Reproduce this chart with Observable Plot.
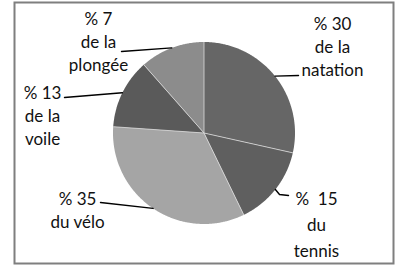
<!DOCTYPE html>
<html><head><meta charset="utf-8">
<script src="https://cdn.jsdelivr.net/npm/d3@7"></script>
<script src="https://cdn.jsdelivr.net/npm/@observablehq/plot@0.6"></script>
<style>body{margin:0;background:#fff}</style></head>
<body><div id="chart"></div>
<script>
const categories = ["natation", "tennis", "vélo", "voile", "plongée"];
const values = [28.5, 14.3, 33.3, 12.4, 11.5];
const labels = ["% 30\nde la\nnatation", "%  15\ndu\ntennis", "% 35\ndu vélo", "% 13\nde la\nvoile", "% 7\nde la\nplongée"];
const colors = ["#666666", "#5f5f5f", "#a5a5a5", "#5a5a5a", "#8c8c8c"];

// layout (pixel positions converted to pie units)
const CX = 203.5, CY = 132.5, R = 91;
const ux = px => (px - CX) / R, uy = py => (CY - py) / R;
const labelPx = [[332, 45], [316, 222], [77, 209], [42, 114.5], [98, 40]];
const leaderEndPx = [[[298, 75]], [[279, 194], [288, 195]], [[100, 202]], [[64, 97]], [[121, 51]]];

const total = d3.sum(values);
const slices = [];
let acc = 0;
categories.forEach((c, i) => {
  const a0 = acc / total * 2 * Math.PI;
  acc += values[i];
  const a1 = acc / total * 2 * Math.PI;
  slices.push({cat: c, a0, a1, mid: (a0 + a1) / 2, color: colors[i], label: labels[i]});
});

const arcPts = [];
slices.forEach(s => {
  arcPts.push({cat: s.cat, color: s.color, x: 0, y: 0});
  const n = Math.max(4, Math.ceil((s.a1 - s.a0) / (Math.PI / 360)));
  for (let k = 0; k <= n; k++) {
    const a = s.a0 + (s.a1 - s.a0) * k / n;
    arcPts.push({cat: s.cat, color: s.color, x: Math.sin(a), y: Math.cos(a)});
  }
  arcPts.push({cat: s.cat, color: s.color, x: 0, y: 0});
});

const seps = slices.map(s => ({x1: 0, y1: 0, x2: Math.sin(s.a0), y2: Math.cos(s.a0)}));

const leaderPts = [];
slices.forEach((s, i) => {
  leaderPts.push({cat: s.cat, x: Math.sin(s.mid), y: Math.cos(s.mid)});
  leaderEndPx[i].forEach(p => leaderPts.push({cat: s.cat, x: ux(p[0]), y: uy(p[1])}));
});

const textData = slices.map((s, i) => ({cat: s.cat, label: s.label, x: ux(labelPx[i][0]), y: uy(labelPx[i][1])}));

const W = 410, H = 265;
const mL = 14, mR = 17, mT = 2, mB = 2;
const chart = Plot.plot({
  width: W, height: H,
  marginLeft: mL, marginRight: mR, marginTop: mT, marginBottom: mB,
  x: {axis: null, domain: [ux(mL), ux(W - mR)]},
  y: {axis: null, domain: [uy(H - mB), uy(mT)]},
  color: {type: "identity"},
  style: {fontFamily: "Lato, 'Open Sans', sans-serif", background: "#fff"},
  marks: [
    Plot.line(arcPts, {x: "x", y: "y", z: "cat", fill: "color", stroke: "none"}),
    Plot.link(seps, {x1: "x1", y1: "y1", x2: "x2", y2: "y2", stroke: "#dcdcdc", strokeWidth: 0.8}),
    Plot.line(leaderPts, {x: "x", y: "y", z: "cat", stroke: "#000", strokeWidth: 1.4}),
    Plot.text(textData.filter(d => d.cat !== "tennis"), {x: "x", y: "y", text: "label", fontSize: 17, lineHeight: 1.35, fill: "#111"}),
    Plot.text(textData.filter(d => d.cat === "tennis"), {x: "x", y: "y", text: "label", fontSize: 17, lineHeight: 1.55, fill: "#111"}),
    Plot.frame({stroke: "#7f7f7f", strokeWidth: 2})
  ]
});
document.getElementById("chart").appendChild(chart);
</script>
</body></html>
